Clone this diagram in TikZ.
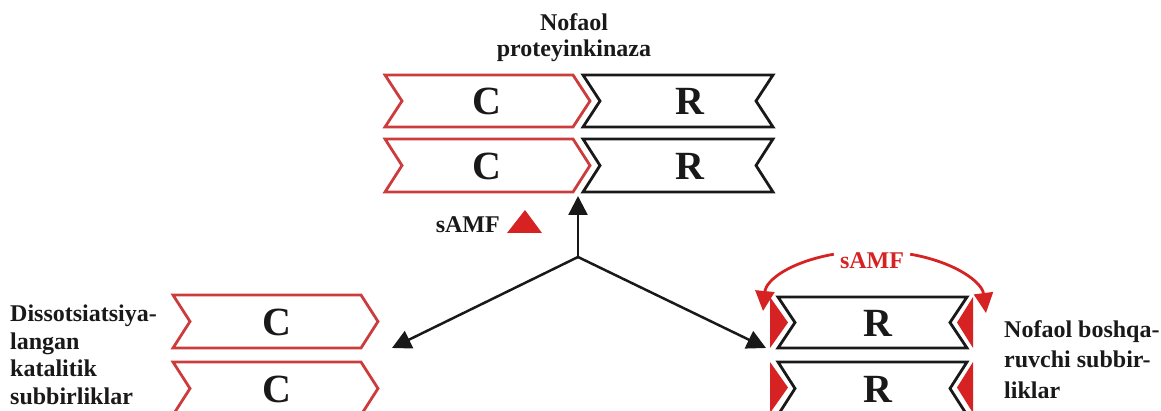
\documentclass[tikz,border=0pt]{standalone}
\usepackage{fontspec}
\setmainfont{Liberation Serif}
\usetikzlibrary{arrows.meta}
\definecolor{camp}{RGB}{214,34,34}
\definecolor{catred}{RGB}{205,60,60}
\definecolor{ink}{RGB}{25,25,25}

% ribbon with a pointed right end (catalytic subunit)
\newcommand{\cribbon}[4]{%
  \draw[csub] ({#1},{#3}) -- ({#2-17},{#3}) -- ({#2},{(#3+#4)/2}) -- ({#2-17},{#4})
    -- ({#1},{#4}) -- ({#1+17},{(#3+#4)/2}) -- cycle;}
% ribbon with notches at both ends (regulatory subunit)
\newcommand{\rribbon}[4]{%
  \draw[rsub] ({#1},{#3}) -- ({#2},{#3}) -- ({#2-17},{(#3+#4)/2}) -- ({#2},{#4})
    -- ({#1},{#4}) -- ({#1+17},{(#3+#4)/2}) -- cycle;}
% cAMP wedge sitting in a notch
\newcommand{\campwedge}[4]{%
  \fill[camp] ({#1},{#3}) -- ({#2},{(#3+#4)/2}) -- ({#1},{#4}) -- cycle;}

\tikzset{
  lbl/.style={font=\fontsize{24}{27.5}\selectfont\bfseries, inner sep=0pt, text=ink},
  sub/.style={font=\fontsize{40}{40}\selectfont\bfseries, inner sep=0pt, text=ink},
  csub/.style={draw=catred, line width=2.8pt, line join=miter},
  rsub/.style={draw=ink, line width=2.8pt, line join=miter},
  flow/.style={draw=ink, line width=2.5pt, -{Triangle[length=19pt,width=19pt]}},
  bind/.style={draw=camp, line width=2.8pt, -{Triangle[length=20pt,width=19pt]}},
}

\begin{document}
\begin{tikzpicture}[x=1pt, y=-1pt]

\useasboundingbox (0,0) rectangle (1161,411);
\clip (0,0) rectangle (1161,411);

%--- TOP: inactive holoenzyme
\node[lbl, anchor=base, align=center] (holo) at (574,57) {Nofaol\\[-1.5pt]proteyinkinaza};

\cribbon{385}{590}{75}{127}
\rribbon{583}{773}{75}{127}
\cribbon{385}{590}{139}{192}
\rribbon{583}{773}{139}{192}

\node[sub] (c1) at (487,101) {C};
\node[sub] (r1) at (690,101) {R};
\node[sub] (c2) at (487,166) {C};
\node[sub] (r2) at (690,166) {R};

%--- cAMP input
\node[lbl, anchor=base east] (campin) at (500,233) {sAMF};
\fill[camp] (507,233) -- (542,233) -- (525,210) -- cycle;

%--- Branching arrows
\coordinate (hub)   at (578,257);
\coordinate (holob) at (578,196);
\coordinate (catin) at (392,348);
\coordinate (regin) at (766,348);
\draw[flow] (hub) -- (holob);
\draw[flow] (hub) -- (catin);
\draw[flow] (hub) -- (regin);

%--- BOTTOM LEFT: free catalytic subunits
\node[lbl, anchor=base west, align=left] (freecat) at (10,404)
  {Dissotsiatsiya-\\langan\\katalitik\\subbirliklar};

\cribbon{173}{378}{295}{348}
\cribbon{173}{378}{362}{415}
\node[sub] (c3) at (277,322) {C};
\node[sub] (c4) at (277,389) {C};

%--- BOTTOM RIGHT: regulatory subunits with bound cAMP
\rribbon{778}{967}{297}{348}
\rribbon{778}{967}{362}{415}
\campwedge{770}{788}{297}{348}
\campwedge{973}{957}{297}{348}
\campwedge{770}{788}{362}{413}
\campwedge{973}{957}{362}{413}
\node[sub] (r3) at (878,323) {R};
\node[sub] (r4) at (878,389) {R};

\node[lbl, text=camp, anchor=base] (campb) at (872,269) {sAMF};
\coordinate (lbend) at (763,311);
\coordinate (rbend) at (986,313);
\draw[bind] (campb.west) ++(-6,-7) .. controls (790,262) and (766,280) .. (lbend);
\draw[bind] (campb.east) ++(6,-7) .. controls (955,262) and (982,282) .. (rbend);

\node[lbl, anchor=base west, align=left] (freereg) at (1004,398)
  {Nofaol boshqa-\\[3pt]ruvchi subbir-\\[3pt]liklar};

\end{tikzpicture}
\end{document}
